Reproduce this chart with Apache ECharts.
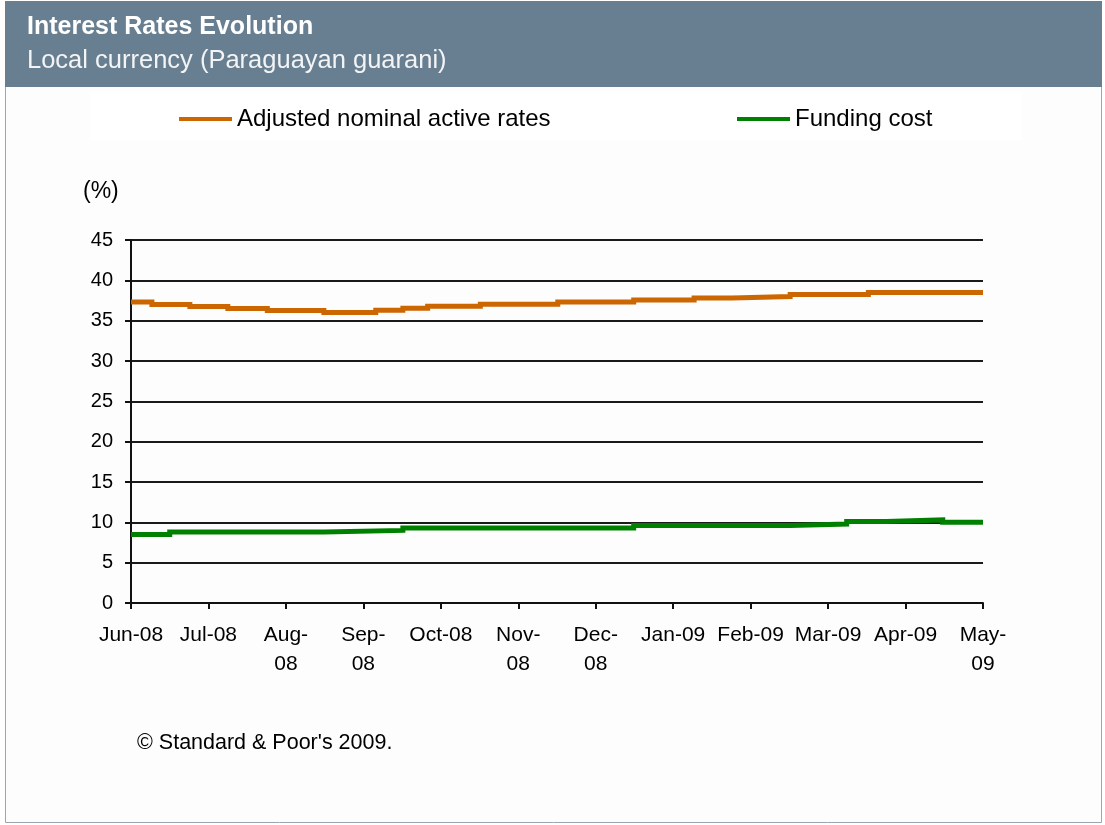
<!DOCTYPE html>
<html><head><meta charset="utf-8">
<script src="https://cdn.jsdelivr.net/npm/echarts@6/dist/echarts.min.js"></script>
<style>html,body{margin:0;padding:0;background:#fff}#c{width:1105px;height:825px}</style>
</head><body><div id="c"></div>
<script>
// Tick labels of the month axis (Jun-08 .. May-09)
const monthLabels = ['Jun-08','Jul-08','Aug-\n08','Sep-\n08','Oct-08','Nov-\n08','Dec-\n08','Jan-09','Feb-09','Mar-09','Apr-09','May-\n09'];
// Series names
const seriesNames = ['Adjusted nominal active rates', 'Funding cost'];
// Months since Jun-08 at which each rate level begins (step data), and the rate (%)
const activeMonths = [0, 0.27, 0.76, 1.25, 1.76, 2.49, 3.16, 3.51, 3.83, 4.51, 5.51, 6.49, 7.27, 7.76, 8.51, 9.52, 11];
const activeRates  = [37.3, 37.0, 36.75, 36.5, 36.25, 36.0, 36.3, 36.55, 36.8, 37.05, 37.3, 37.55, 37.8, 38.0, 38.25, 38.5, 38.5];
const fundingMonths = [0, 0.50, 2.49, 3.51, 6.49, 8.51, 9.24, 9.75, 10.48, 11];
const fundingRates  = [8.5, 8.8, 9.0, 9.3, 9.6, 9.8, 10.1, 10.3, 10.0, 10.0];

const FONT = '"Liberation Sans", Arial, sans-serif';
const chart = echarts.init(document.getElementById('c'), null, {renderer: 'canvas'});
// each level holds from its start month until the next start month
const steps = (xs, ys) => {
  const out = [];
  for (let i = 0; i < xs.length; i++) {
    out.push([xs[i], ys[i]]);
    if (i < xs.length - 1) out.push([xs[i + 1], ys[i]]);
  }
  return out;
};

chart.setOption({
  animation: false,
  backgroundColor: '#ffffff',
  textStyle: {fontFamily: FONT},
  graphic: [
    {type: 'rect', z: -10, shape: {x: 5.5, y: 1.5, width: 1096, height: 821}, style: {fill: '#fdfdfd', stroke: '#9aa6b0', lineWidth: 1}},
    {type: 'rect', z: -9, shape: {x: 5, y: 1, width: 1097, height: 86}, style: {fill: '#687f91'}},
    {type: 'rect', z: -8, shape: {x: 90, y: 92, width: 932, height: 48}, style: {fill: '#ffffff'}},
    {type: 'text', x: 27, y: 27, style: {text: 'Interest Rates Evolution', fill: '#ffffff', font: 'bold 25px ' + FONT, textVerticalAlign: 'middle'}},
    {type: 'text', x: 27, y: 61, style: {text: 'Local currency (Paraguayan guarani)', fill: '#f2f4f6', font: '25.5px ' + FONT, textVerticalAlign: 'middle'}},
    {type: 'text', x: 83, y: 192, style: {text: '(%)', fill: '#000', font: '23px ' + FONT, textVerticalAlign: 'middle'}},
    {type: 'text', x: 137, y: 743, style: {text: '© Standard & Poor\'s 2009.', fill: '#000', font: '21.5px ' + FONT, textVerticalAlign: 'middle'}}
  ],
  legend: [
    {left: 174, top: 102, icon: 'rect', itemWidth: 53, itemHeight: 4, data: [seriesNames[0]],
     textStyle: {fontSize: 24, color: '#000', fontFamily: FONT}},
    {left: 732, top: 102, icon: 'rect', itemWidth: 53, itemHeight: 4, data: [seriesNames[1]],
     textStyle: {fontSize: 24, color: '#000', fontFamily: FONT}}
  ],
  grid: {left: 131, right: 122, top: 240, bottom: 222, containLabel: false},
  xAxis: {
    type: 'value', min: 0, max: 11, interval: 1,
    axisLine: {show: true, lineStyle: {color: '#111', width: 2}},
    axisTick: {show: true, length: 6, lineStyle: {color: '#111', width: 2}},
    splitLine: {show: false},
    axisLabel: {formatter: v => monthLabels[v] || '', fontSize: 21, color: '#000', margin: 18, lineHeight: 29, fontFamily: FONT}
  },
  yAxis: {
    type: 'value', min: 0, max: 45, interval: 5,
    axisLine: {show: true, lineStyle: {color: '#111', width: 2}},
    axisTick: {show: true, length: 6, lineStyle: {color: '#111', width: 2}},
    splitLine: {show: true, lineStyle: {color: '#1a1a1a', width: 2}},
    axisLabel: {fontSize: 20, color: '#000', margin: 18, fontFamily: FONT}
  },
  series: [
    {name: seriesNames[0], type: 'line', data: steps(activeMonths, activeRates), showSymbol: false,
     lineStyle: {color: '#cc6600', width: 5, join: 'miter', cap: 'butt'}, itemStyle: {color: '#cc6600'}},
    {name: seriesNames[1], type: 'line', data: steps(fundingMonths, fundingRates), showSymbol: false,
     lineStyle: {color: '#008000', width: 5, join: 'miter', cap: 'butt'}, itemStyle: {color: '#008000'}}
  ]
});
</script></body></html>
